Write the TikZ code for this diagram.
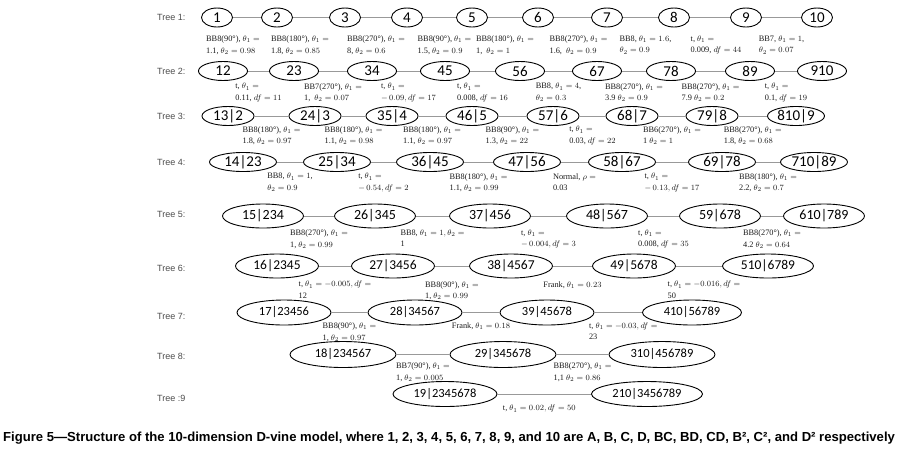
\documentclass[tikz,border=0pt]{standalone}
\usepackage{fontspec}
\setmainfont{Liberation Serif}
\setsansfont{Carlito}
\newfontfamily\treefont{Liberation Sans}
\usetikzlibrary{shapes.geometric}

\begin{document}
\begin{tikzpicture}[x=1pt,y=-1pt,
    every edge/.append style={draw=gray!80,line width=0.7pt},
    main node/.style={ellipse,draw,line width=0.9pt,inner sep=0pt,font=\sffamily\fontsize{15}{15}\selectfont},
    lab/.style={anchor=north,yshift=-#1,align=left,inner sep=0pt,text=black!90,font=\fontsize{8.3}{11.5}\selectfont},
    lab/.default=10pt,
    tree lab/.style={anchor=west,inner sep=0pt,text=black!70,font=\treefont\fontsize{9}{9}\selectfont}]
    \useasboundingbox (0,0) rectangle (897,459);

    \foreach \i/\y in {1/17,2/71,3/116,4/162,5/214,6/268,7/316,8/356}
        \node[tree lab] at (157,\y) (tree\i) {Tree \i:};
    \node[tree lab] at (157,398) (tree9) {Tree :9};

    % Tree 1
    \begin{scope}[main node/.append style={minimum width=31pt,minimum height=19pt}]
        \node[main node] at (217,17.5) (n1) {1};
        \node[main node] at (277,17.5) (n2) {2};
        \node[main node] at (345,17.5) (n3) {3};
        \node[main node] at (407,17.5) (n4) {4};
        \node[main node] at (472,17.5) (n5) {5};
        \node[main node] at (538,17.5) (n6) {6};
        \node[main node] at (607,17.5) (n7) {7};
        \node[main node] at (674,17.5) (n8) {8};
        \node[main node] at (746,17.5) (n9) {9};
        \node[main node] at (817,17.5) (n10) {10};
    \end{scope}
    \path
        (n1) edge node[lab=18pt,xshift=-14pt] {BB8(90°), $\theta_1 =$\\1.1, $\theta_2 = 0.98$} (n2)
        (n2) edge node[lab=18pt,xshift=-11pt] {BB8(180°), $\theta_1 =$\\1.8, $\theta_2 = 0.85$} (n3)
        (n3) edge node[lab=18pt] {BB8(270°), $\theta_1 =$\\8, $\theta_2 = 0.6$} (n4)
        (n4) edge node[lab=18pt,xshift=5pt] {BB8(90°), $\theta_1 =$\\1.5, $\theta_2 = 0.9$} (n5)
        (n5) edge node[lab=18pt] {BB8(180°), $\theta_1 =$\\1, \ $\theta_2 = 1$} (n6)
        (n6) edge node[lab=18pt,xshift=6pt] {BB8(270°), $\theta_1 =$\\1.6, \ $\theta_2 = 0.9$} (n7)
        (n7) edge node[lab=18pt,xshift=5pt] {BB8, $\theta_1 = 1.6$,\\$\theta_2 = 0.9$} (n8)
        (n8) edge node[lab=18pt,xshift=6pt] {t, $\theta_1 =$\\0.009, $df = 44$} (n9)
        (n9) edge node[lab=18pt] {BB7, $\theta_1 = 1$,\\$\theta_2 = 0.07$} (n10);

    % Tree 2
    \begin{scope}[main node/.append style={minimum width=49pt,minimum height=19pt}]
        \node[main node] at (223,71) (n12) {12};
        \node[main node] at (294,71) (n23) {23};
        \node[main node] at (372,71) (n34) {34};
        \node[main node] at (445,71) (n45) {45};
        \node[main node] at (520,71) (n56) {56};
        \node[main node] at (597,71) (n67) {67};
        \node[main node] at (671,71) (n78) {78};
        \node[main node] at (750,71) (n89) {89};
        \node[main node] at (822,71) (n910) {910};
    \end{scope}
    \path
        (n12) edge node[lab=12pt] {t, $\theta_1 =$\\0.11, $df = 11$} (n23)
        (n23) edge node[lab=12pt] {BB7(270°), $\theta_1 =$\\1, \ $\theta_2 = 0.07$} (n34)
        (n34) edge node[lab=12pt] {t, $\theta_1 =$\\$-\,0.09, df = 17$} (n45)
        (n45) edge node[lab=12pt] {t, $\theta_1 =$\\0.008, $df = 16$} (n56)
        (n56) edge node[lab=12pt] {BB8, $\theta_1 = 4$,\\$\theta_2 = 0.3$} (n67)
        (n67) edge node[lab=12pt] {BB8(270°), $\theta_1 =$\\3.9 $\theta_2 = 0.9$} (n78)
        (n78) edge node[lab=12pt] {BB8(270°), $\theta_1 =$\\7.9 $\theta_2 = 0.2$} (n89)
        (n89) edge node[lab=12pt] {t, $\theta_1 =$\\0.1, $df = 19$} (n910);

    % Tree 3
    \begin{scope}[main node/.append style={minimum width=52pt,minimum height=19pt}]
        \node[main node] at (228,116) (n132) {13|2};
        \node[main node] at (315,116) (n243) {24|3};
        \node[main node] at (392,116) (n354) {35|4};
        \node[main node] at (472,116) (n465) {46|5};
        \node[main node] at (553,116) (n576) {57|6};
        \node[main node] at (632,116) (n687) {68|7};
        \node[main node] at (712,116) (n798) {79|8};
        \node[main node,minimum width=57pt] at (796,116) (n8109) {810|9};
    \end{scope}
    \path
        (n132) edge node[lab] {BB8(180°), $\theta_1 =$\\1.8, $\theta_2 = 0.97$} (n243)
        (n243) edge node[lab] {BB8(180°), $\theta_1 =$\\1.1, $\theta_2 = 0.98$} (n354)
        (n354) edge node[lab] {BB8(180°), $\theta_1 =$\\1.1, $\theta_2 = 0.97$} (n465)
        (n465) edge node[lab] {BB8(90°), $\theta_1 =$\\1.3, $\theta_2 = 22$} (n576)
        (n576) edge node[lab] {t, $\theta_1 =$\\0.03, $df = 22$} (n687)
        (n687) edge node[lab] {BB6(270°), $\theta_1 =$\\1 $\theta_2 = 1$} (n798)
        (n798) edge node[lab] {BB8(270°), $\theta_1 =$\\1.8, $\theta_2 = 0.68$} (n8109);

    % Tree 4
    \begin{scope}[main node/.append style={minimum width=67pt,minimum height=19pt}]
        \node[main node] at (243,162) (n1423) {14|23};
        \node[main node] at (337,162) (n2534) {25|34};
        \node[main node] at (430,162) (n3645) {36|45};
        \node[main node] at (527,162) (n4756) {47|56};
        \node[main node] at (622,162) (n5867) {58|67};
        \node[main node] at (722,162) (n6978) {69|78};
        \node[main node] at (814,162) (n71089) {710|89};
    \end{scope}
    \path
        (n1423) edge node[lab=11pt] {BB8, $\theta_1 = 1$,\\$\theta_2 = 0.9$} (n2534)
        (n2534) edge node[lab=11pt] {t, $\theta_1 =$\\$-\,0.54, df = 2$} (n3645)
        (n3645) edge node[lab=11pt] {BB8(180°), $\theta_1 =$\\1.1, $\theta_2 = 0.99$} (n4756)
        (n4756) edge node[lab=11pt] {Normal, $\rho =$\\0.03} (n5867)
        (n5867) edge node[lab=11pt] {t, $\theta_1 =$\\$-\,0.13, df = 17$} (n6978)
        (n6978) edge node[lab=11pt] {BB8(180°), $\theta_1 =$\\2.2, $\theta_2 = 0.7$} (n71089);

    % Tree 5
    \begin{scope}[main node/.append style={minimum width=81pt,minimum height=24pt,font=\sffamily\fontsize{14}{14}\selectfont}]
        \node[main node] at (263,216) (n15234) {15|234};
        \node[main node] at (375,216) (n26345) {26|345};
        \node[main node] at (490,216) (n37456) {37|456};
        \node[main node] at (607,216) (n48567) {48|567};
        \node[main node] at (720,216) (n59678) {59|678};
        \node[main node] at (824,216) (n610789) {610|789};
    \end{scope}
    \path
        (n15234) edge node[lab=13.5pt] {BB8(270°), $\theta_1 =$\\1, $\theta_2 = 0.99$} (n26345)
        (n26345) edge node[lab=13.5pt] {BB8, $\theta_1 = 1, \theta_2 =$\\1} (n37456)
        (n37456) edge node[lab=13.5pt] {t, $\theta_1 =$\\$-\,0.004, df = 3$} (n48567)
        (n48567) edge node[lab=13.5pt] {t, $\theta_1 =$\\0.008, $df = 35$} (n59678)
        (n59678) edge node[lab=13.5pt] {BB8(270°), $\theta_1 =$\\4.2 $\theta_2 = 0.64$} (n610789);

    % Tree 6
    \begin{scope}[main node/.append style={minimum width=83pt,minimum height=24pt,font=\sffamily\fontsize{13.5}{13.5}\selectfont}]
        \node[main node] at (277,266) (n162345) {16|2345};
        \node[main node] at (393,266) (n273456) {27|3456};
        \node[main node] at (511,266) (n384567) {38|4567};
        \node[main node] at (634,266) (n495678) {49|5678};
        \node[main node,minimum width=91pt] at (768,266) (n5106789) {510|6789};
    \end{scope}
    \path
        (n162345) edge node[lab=15pt] {t, $\theta_1 = -0.005, df =$\\12} (n273456)
        (n273456) edge node[lab=15pt] {BB8(90°), $\theta_1 =$\\1, $\theta_2 = 0.99$} (n384567)
        (n384567) edge node[lab=15pt] {Frank, $\theta_1 = 0.23$} (n495678)
        (n495678) edge node[lab=15pt,xshift=5pt] {t, $\theta_1 = -0.016, df =$\\50} (n5106789);

    % Tree 7
    \begin{scope}[main node/.append style={minimum width=94pt,minimum height=25pt,font=\sffamily\fontsize{12.5}{12.5}\selectfont}]
        \node[main node] at (284,312.5) (n1723456) {17|23456};
        \node[main node] at (415,312.5) (n2834567) {28|34567};
        \node[main node] at (547,312.5) (n3945678) {39|45678};
        \node[main node,minimum width=99pt] at (692,312.5) (n41056789) {410|56789};
    \end{scope}
    \path
        (n1723456) edge node[lab=10pt] {BB8(90°), $\theta_1 =$\\1, $\theta_2 = 0.97$} (n2834567)
        (n2834567) edge node[lab=10pt] {Frank, $\theta_1 = 0.18$} (n3945678)
        (n3945678) edge node[lab=10pt,xshift=5pt] {t, $\theta_1 = -0.03, df =$\\23} (n41056789);

    % Tree 8
    \begin{scope}[main node/.append style={minimum width=106pt,minimum height=26pt,font=\sffamily\fontsize{12.5}{12.5}\selectfont}]
        \node[main node] at (343,354.5) (n18234567) {18|234567};
        \node[main node] at (503,354.5) (n29345678) {29|345678};
        \node[main node] at (662,354.5) (n310456789) {310|456789};
    \end{scope}
    \path
        (n18234567) edge node[lab=8pt] {BB7(90°), $\theta_1 =$\\1, $\theta_2 = 0.005$} (n29345678)
        (n29345678) edge node[lab=8pt] {BB8(270°), $\theta_1 =$\\1,1 $\theta_2 = 0.86$} (n310456789);

    % Tree 9
    \begin{scope}[main node/.append style={minimum height=25pt,font=\sffamily\fontsize{12.5}{12.5}\selectfont}]
        \node[main node,minimum width=104pt] at (445,394) (n192345678) {19|2345678};
        \node[main node,minimum width=111pt] at (647,394) (n2103456789) {210|3456789};
    \end{scope}
    \path
        (n192345678) edge node[lab=11pt,xshift=-5pt] {t, $\theta_1 = 0.02, df = 50$} (n2103456789);

    \node[anchor=west,inner sep=0pt,font=\treefont\bfseries\fontsize{13.1}{14}\selectfont] at (3,438) (cap)
        {Figure 5—Structure of the 10-dimension D-vine model, where 1, 2, 3, 4, 5, 6, 7, 8, 9, and 10 are A, B, C, D, BC, BD, CD, B², C², and D² respectively};
\end{tikzpicture}
\end{document}
